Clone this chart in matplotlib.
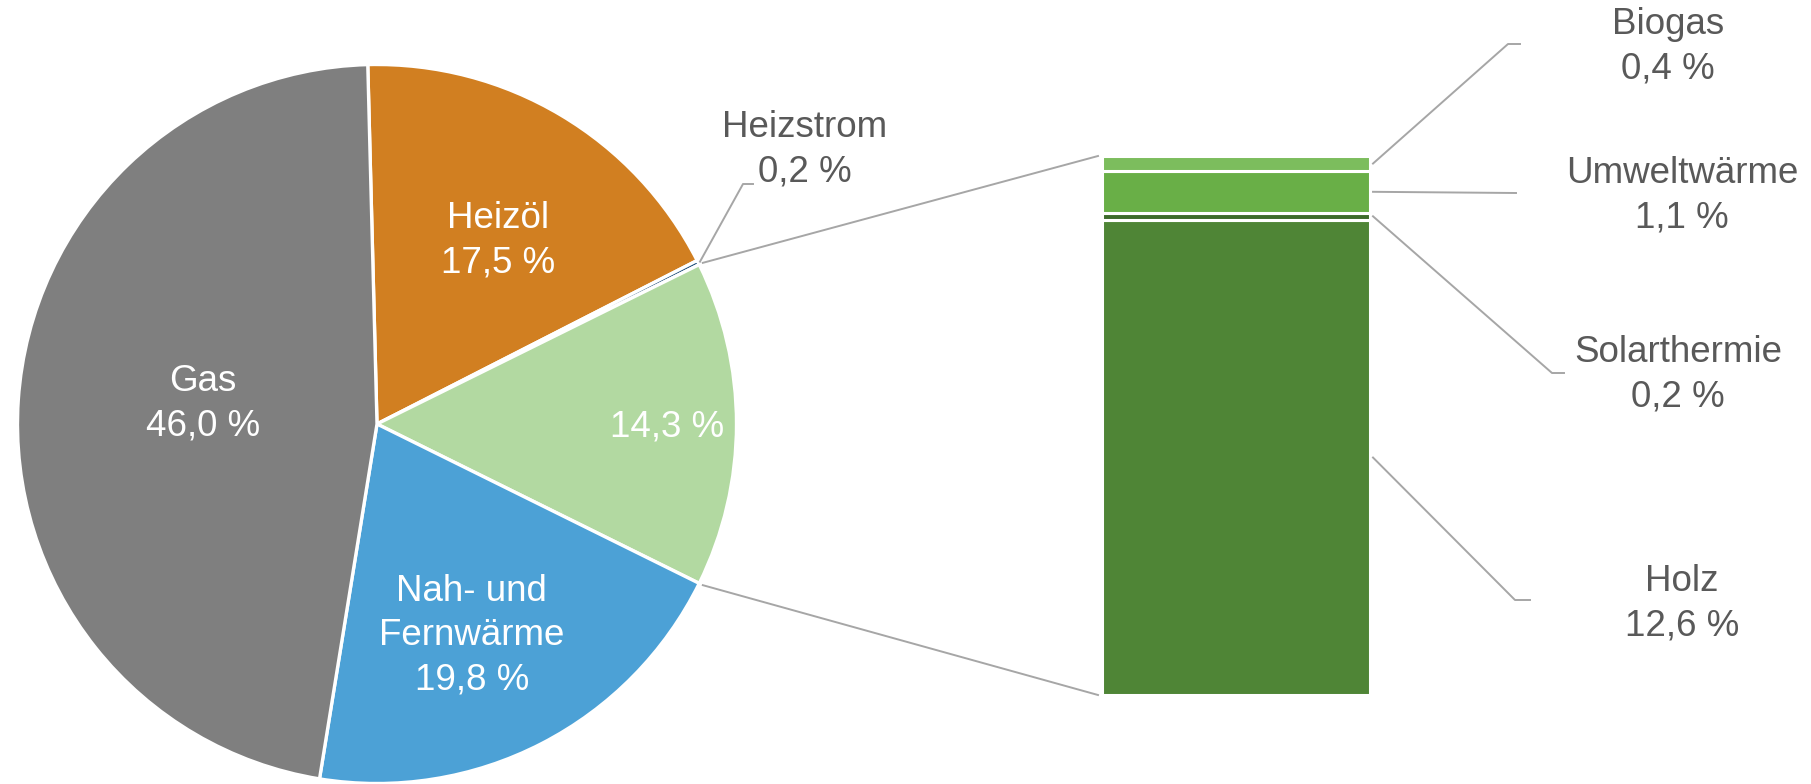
import numpy as np
import matplotlib
matplotlib.use("Agg")
import matplotlib.pyplot as plt

plt.rcParams['font.family'] = ['Liberation Sans', 'DejaVu Sans']

# pie: Anteile in %
pie_labels = ["Heizöl", "Heizstrom", "", "Nah- und\nFernwärme", "Gas"]
pie_values = [17.5, 0.2, 14.3, 19.8, 46.0]
pie_colors = ["#D17F21", "#1F4E79", "#B2D9A1", "#4CA1D6", "#7F7F7F"]

# bar: Aufteilung der Erneuerbaren (von unten nach oben)
bar_labels = ["Holz", "Solarthermie", "Umweltwärme", "Biogas"]
bar_values = [12.6, 0.2, 1.1, 0.4]
bar_colors = ["#4F8536", "#3D6B2B", "#69AF47", "#7CBD5D"]

W, H = 1811, 784
grey_txt = "#595959"
line_col = "#A6A6A6"
fs = 26.5
ls = 1.35


def fmt(v):
    return f"{v:.1f}".replace(".", ",") + " %"


def Y(y):  # y from top -> axes y
    return H - y


fig = plt.figure(figsize=(W / 100, H / 100), dpi=100)
ax = fig.add_axes([0, 0, 1, 1])

total = sum(pie_values)
ang = [v / total * 360 for v in pie_values]
start = ang[2] / 2 + ang[1] + ang[0]
cx, cy, r = 377, Y(424), 359.5

wedges, _ = ax.pie(pie_values, colors=pie_colors, startangle=start, counterclock=False,
                   center=(cx, cy), radius=r,
                   wedgeprops=dict(edgecolor="white", linewidth=2.4))
ax.set_xlim(0, W)
ax.set_ylim(0, H)
ax.set_aspect("equal")
ax.axis("off")

# labels inside the pie
lab_dist = [0.61, None, 0.807, 0.645, 0.487]
lab_shift = [-2.7, 0, -0.6, -3.1, -2.7]
for w, lab, v, d, s in zip(wedges, pie_labels, pie_values, lab_dist, lab_shift):
    if d is None:
        continue
    mid = np.deg2rad((w.theta1 + w.theta2) / 2 + s)
    txt = (lab + "\n" if lab else "") + fmt(v)
    ax.text(cx + d * r * np.cos(mid), cy + d * r * np.sin(mid), txt,
            color="white", fontsize=fs, ha="center", va="center",
            multialignment="center", linespacing=ls)

# Heizstrom outside label
w = wedges[1]
mid = np.deg2rad((w.theta1 + w.theta2) / 2)
px, py = cx + (r + 2) * np.cos(mid), cy + (r + 2) * np.sin(mid)
ax.plot([px, 743, 753], [py, Y(184), Y(184)], color=line_col, lw=1.4)
ax.text(805, Y(150), pie_labels[1] + "\n" + fmt(pie_values[1]), color=grey_txt,
        fontsize=fs, ha="center", va="center", multialignment="center", linespacing=ls)

# bar of pie
bx0, bx1, by_top, by_bot = 1102, 1370, 156, 695
bax = fig.add_axes([bx0 / W, (H - by_bot) / H, (bx1 - bx0) / W, (by_bot - by_top) / H])
bottoms = np.concatenate([[0], np.cumsum(bar_values)[:-1]])
bax.bar(0, bar_values, bottom=bottoms, width=1, color=bar_colors,
        edgecolor="white", linewidth=2.2)
bax.set_xlim(-0.5, 0.5)
bax.set_ylim(0, sum(bar_values))
bax.axis("off")


def bar_to_ax(x, y):
    p = bax.transData.transform((x, y))
    return ax.transData.inverted().transform(p)


# connectors pie -> bar
g = wedges[2]
for theta, yb in [(g.theta1, 0), (g.theta2, sum(bar_values))]:
    t = np.deg2rad(theta)
    sx, sy = cx + (r + 4) * np.cos(t), cy + (r + 4) * np.sin(t)
    ex, ey = bar_to_ax(-0.5, yb)
    ax.plot([sx, ex - 4], [sy, ey], color=line_col, lw=1.4)

# bar labels with leader lines
elbows = [(1515, 600), (1552, 373), None, (1508, 44)]
ends = [(1530, 600), (1564, 373), (1516, 193), (1520, 44)]
lab_pos = [(1682, 604), (1678, 375), (1682, 196), (1668, 47)]
for lab, v, b, el, en, lp in zip(bar_labels, bar_values, bottoms, elbows, ends, lab_pos):
    sx, sy = bar_to_ax(0.5, b + v / 2)
    xs, ys = [sx + 3], [sy]
    if el is not None:
        xs.append(el[0]); ys.append(Y(el[1]))
    xs.append(en[0]); ys.append(Y(en[1]))
    ax.plot(xs, ys, color=line_col, lw=1.4)
    ax.text(lp[0], Y(lp[1]), lab + "\n" + fmt(v), color=grey_txt, fontsize=fs,
            ha="center", va="center", multialignment="center", linespacing=ls)

fig.savefig("out.png", dpi=100, facecolor="white")
